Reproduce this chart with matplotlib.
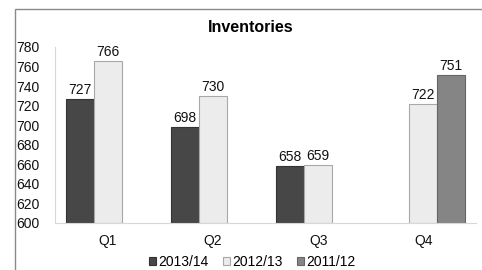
import matplotlib
matplotlib.use("Agg")
import matplotlib.pyplot as plt
import numpy as np
from matplotlib.patches import Rectangle

categories = ["Q1", "Q2", "Q3", "Q4"]
series_names = ["2013/14", "2012/13", "2011/12"]
v_2013_14 = [727, 698, 658, np.nan]
v_2012_13 = [766, 730, 659, 722]
v_2011_12 = [np.nan, np.nan, np.nan, 751]
yticks = list(range(600, 781, 20))

plt.rcParams['font.family'] = ['Liberation Sans', 'DejaVu Sans']

fig = plt.figure(figsize=(4.82, 2.70), dpi=100)
ax = fig.add_axes([55/482, 1-223/270, (476-55)/482, (223-47)/270])

colors = ["#474747", "#ececec", "#858585"]
edges = ["#333333", "#a8a8a8", "#666666"]
width = 0.265
x = np.arange(len(categories))
for i, (vals, name) in enumerate(zip([v_2013_14, v_2012_13, v_2011_12], series_names)):
    pos = x + (i - 1) * width
    ax.bar(pos, np.array(vals, dtype=float) - 600, bottom=600, width=width,
           color=colors[i], edgecolor=edges[i], linewidth=0.8, label=name)
    for p, v in zip(pos, vals):
        if not np.isnan(v):
            ax.text(p, v + 2, f"{v:.0f}", ha="center", va="bottom", fontsize=10, color="#111111")

ax.set_xlim(-0.5, 3.5)
ax.set_ylim(600, 780)
ax.set_yticks(yticks)
ax.set_xticks(x)
ax.set_xticklabels(categories)
ax.tick_params(axis="both", length=0, labelsize=10, colors="#111111")
ax.tick_params(axis="y", pad=11)
ax.tick_params(axis="x", pad=8)
for s in ["top", "right"]:
    ax.spines[s].set_visible(False)
ax.spines["left"].set_color("#d8d8d8")
ax.spines["bottom"].set_color("#d8d8d8")

fig.text(0.52, 1-27/270, "Inventories", ha="center", va="center", fontsize=11.5, fontweight="bold")

leg = fig.legend(loc="center", bbox_to_anchor=(0.523, 1-262/270), ncol=3, frameon=False,
                 fontsize=10, handlelength=0.55, handleheight=0.55, handletextpad=0.15,
                 columnspacing=1.0, borderpad=0)

fig.patches.append(Rectangle((15/482, -0.2), 1.2, 1.2 - 9/270,
                             transform=fig.transFigure, fill=False, edgecolor="#8a8a8a",
                             linewidth=1.0, figure=fig))

fig.savefig("out.png", dpi=100)
